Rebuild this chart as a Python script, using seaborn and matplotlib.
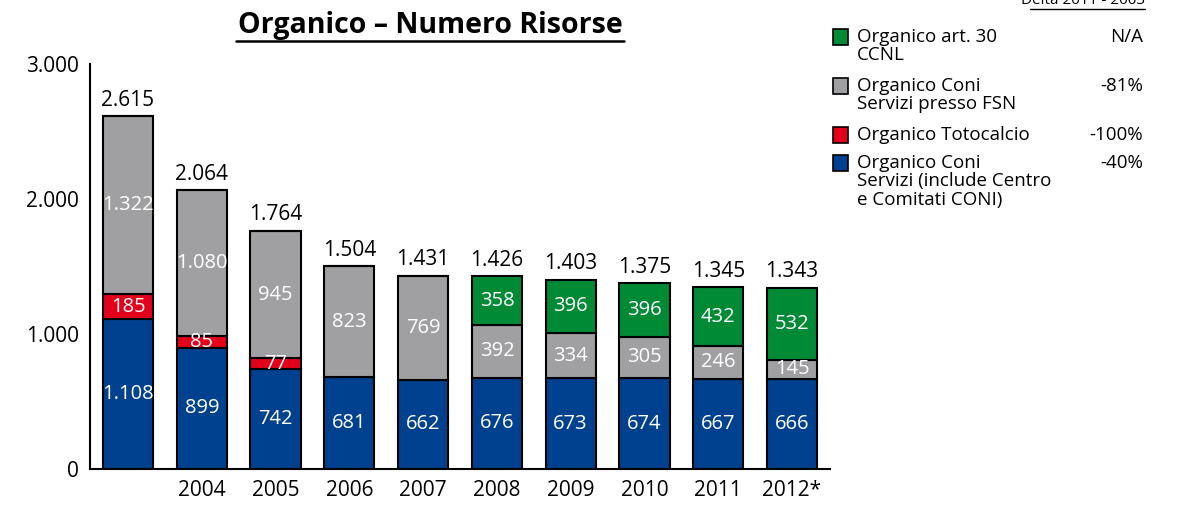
import numpy as np
import pandas as pd
import seaborn as sns
import matplotlib.pyplot as plt
from matplotlib.patches import Rectangle

# Organico CONI - numero risorse per anno

years = ["2003", "2004", "2005", "2006", "2007", "2008", "2009", "2010", "2011", "2012*"]
tick_labels = ["", "2004", "2005", "2006", "2007", "2008", "2009", "2010", "2011", "2012*"]

coni_servizi = [1108, 899, 742, 681, 662, 676, 673, 674, 667, 666]
totocalcio = [185, 85, 77, 0, 0, 0, 0, 0, 0, 0]
presso_fsn = [1322, 1080, 945, 823, 769, 392, 334, 305, 246, 145]
art30 = [0, 0, 0, 0, 0, 358, 396, 396, 432, 532]

legend_names = ["Organico art. 30\nCCNL",
                "Organico Coni\nServizi presso FSN",
                "Organico Totocalcio",
                "Organico Coni\nServizi (include Centro\ne Comitati CONI)"]
legend_delta = ["N/A", "-81%", "-100%", "-40%"]

BLUE = "#00418f"
RED = "#e2001a"
GREY = "#a0a0a2"
GREEN = "#008a35"

sns.set_style("white")
plt.rcParams['font.family'] = ['Open Sans', 'DejaVu Sans']
plt.rcParams['text.color'] = 'black'
plt.rcParams['xtick.color'] = 'black'
plt.rcParams['ytick.color'] = 'black'

df = pd.DataFrame({'year': years, 'blue': coni_servizi, 'red': totocalcio,
                   'grey': presso_fsn, 'green': art30})
df['total'] = df[['blue', 'red', 'grey', 'green']].sum(axis=1)

def fmt(v):
    return f"{v:,}".replace(",", ".")

fig = plt.figure(figsize=(11.84, 5.05), dpi=100)
ax = fig.add_axes([90 / 1184, 1 - 469 / 505, 740 / 1184, 405 / 505])

layers = [('blue', BLUE), ('red', RED), ('grey', GREY), ('green', GREEN)]
bottom = np.zeros(len(df))
for col, color in layers:
    vals = df[col].values
    sns.barplot(x=np.arange(len(df)), y=vals, bottom=bottom, color=color,
                width=0.68, edgecolor='black', linewidth=1.5, ax=ax,
                saturation=1, native_scale=True)
    for i, v in enumerate(vals):
        if v > 0:
            ax.text(i, bottom[i] + v / 2, fmt(v), ha='center', va='center',
                    color='white', fontsize=14.5)
    bottom = bottom + vals

for i, t in enumerate(df['total']):
    ax.text(i, t + 40, fmt(t), ha='center', va='bottom', color='black', fontsize=15)

ax.set_xlim(-0.515, 9.515)
ax.set_ylim(0, 3000)
ax.set_yticks([0, 1000, 2000, 3000])
ax.set_yticklabels([fmt(v) for v in [0, 1000, 2000, 3000]], fontsize=15)
ax.set_xticks(range(len(tick_labels)))
ax.set_xticklabels(tick_labels, fontsize=15)
ax.tick_params(axis='y', direction='out', length=6, width=1.3, color='black', pad=2)
ax.tick_params(axis='x', length=0, pad=8)
for s in ['top', 'right']:
    ax.spines[s].set_visible(False)
for s in ['left', 'bottom']:
    ax.spines[s].set_color('black')
    ax.spines[s].set_linewidth(1.5)
ax.set_xlabel('')
ax.set_ylabel('')

# title
fig.text(430 / 1184, 1 - 25 / 505, "Organico – Numero Risorse", ha='center', va='center',
         fontsize=20.5, fontweight='bold')
fig.add_artist(plt.Line2D([236 / 1184, 624 / 1184], [1 - 41 / 505, 1 - 41 / 505],
                          color='black', linewidth=1.8))

# delta header (cut at the top)
fig.text(1145 / 1184, 1 - 1 / 505, "Delta 2011 - 2003", ha='right', va='center', fontsize=11)
fig.add_artist(plt.Line2D([1030 / 1184, 1145 / 1184], [1 - 9 / 505, 1 - 9 / 505],
                          color='black', linewidth=1))

# legend
rows_y = [29, 78, 127, 155]
colors = [GREEN, GREY, RED, BLUE]
for name, delta, y, c in zip(legend_names, legend_delta, rows_y, colors):
    fig.add_artist(Rectangle((833 / 1184, 1 - (y + 16) / 505), 15 / 1184, 16 / 505,
                             facecolor=c, edgecolor='black', linewidth=1.2))
    fig.text(857 / 1184, 1 - (y - 1) / 505, name, ha='left', va='top', fontsize=13.5,
             linespacing=1.02)
    fig.text(1143 / 1184, 1 - (y - 1) / 505, delta, ha='right', va='top', fontsize=13.5)

fig.savefig("out.png", dpi=100)
